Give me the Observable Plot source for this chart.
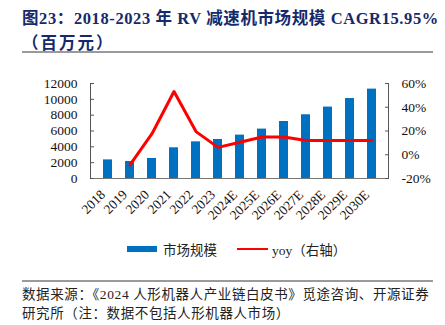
<!DOCTYPE html>
<html><head><meta charset="utf-8">
<script src="https://cdn.jsdelivr.net/npm/d3@7"></script>
<script src="https://cdn.jsdelivr.net/npm/@observablehq/plot@0.6"></script>
<style>
body{margin:0;width:445px;height:325px;background:#fff;position:relative;overflow:hidden;font-family:"Liberation Serif","Noto Sans CJK SC",serif;}
.abs{position:absolute;white-space:nowrap;}
#t1{left:22px;top:5px;font-size:16.5px;font-weight:bold;color:#15296b;letter-spacing:0.6px;}
#t2{left:22px;top:30px;font-size:16.5px;font-weight:bold;color:#15296b;letter-spacing:2px;}
.hr{position:absolute;left:22px;width:411px;height:2px;background:#9a9a9a;}
#chart{position:absolute;left:0;top:60px;}
.src{left:22px;font-size:13.5px;color:#222;letter-spacing:0.6px;}
</style></head>
<body>
<div id="t1" class="abs">图23：2018-2023 年 RV 减速机市场规模 CAGR15.95%</div>
<div id="t2" class="abs">（百万元）</div>
<div class="hr" style="top:51px"></div>
<div id="chart"></div>
<div class="abs" style="left:127px;top:246px;width:30px;height:6px;background:#0070C0"></div>
<div class="abs" style="left:163px;top:239px;font-size:13.5px;color:#222">市场规模</div>
<div class="abs" style="left:237px;top:248px;width:31px;height:2px;background:#ff0000"></div>
<div class="abs" style="left:272px;top:239px;font-size:13.5px;color:#222">yoy（右轴）</div>
<div class="hr" style="top:280px"></div>
<div class="abs src" style="top:283px">数据来源：《2024 人形机器人产业链白皮书》觅途咨询、开源证券</div>
<div class="abs src" style="top:302px">研究所（注：数据不包括人形机器人市场）</div>
<script>
const years = ["2018","2019","2020","2021","2022","2023","2024E","2025E","2026E","2027E","2028E","2029E","2030E"];
const marketSize = [2350,2150,2530,3880,4630,4930,5480,6240,7200,8050,9020,10100,11290];
const yoyYears = ["2019","2020","2021","2022","2023","2024E","2025E","2026E","2027E","2028E","2029E","2030E"];
const yoyPct = [-8.5,17.7,53.3,19.5,6.2,10.5,15.0,15.0,12.0,12.0,12.0,12.0];
const leftTicks = [0,2000,4000,6000,8000,10000,12000];
const rightTicks = [-20,0,20,40,60];

const bars = years.map((y,i)=>({year:y, value:marketSize[i]}));
const yoy = yoyYears.map((y,i)=>({year:y, pct:yoyPct[i]}));
const conv = d3.scaleLinear([-20,60],[0,12000]);

const chart = Plot.plot({
  width:445, height:180,
  marginLeft:90, marginRight:57, marginTop:23, marginBottom:62,
  style:{fontFamily:"'Liberation Serif', serif", fontSize:"13.5px", color:"#111", background:"transparent"},
  x:{domain:years, paddingInner:0.6, paddingOuter:0.3},
  y:{domain:[0,12000]},
  marks:[
    Plot.barY(bars,{x:"year", y:"value", fill:"#0070C0"}),
    Plot.ruleY([0],{stroke:"#777", strokeWidth:1.2}),
    Plot.frame({anchor:"left", stroke:"#555"}),
    Plot.frame({anchor:"right", stroke:"#555"}),
    Plot.line(yoy,{x:"year", y:d=>conv(d.pct), stroke:"#ff0000", strokeWidth:3}),
    Plot.axisY(leftTicks,{anchor:"left", tickSize:-4, tickPadding:17, tickFormat:d3.format("d"), stroke:"#555", label:null}),
    Plot.axisY(rightTicks.map(conv),{anchor:"right", tickSize:-4, tickPadding:17, tickFormat:d=>Math.round(conv.invert(d))+"%", stroke:"#555", label:null}),
    Plot.axisX({tickRotate:-45, tickSize:0, tickPadding:4, dx:-5, dy:10, label:null})
  ]
});
document.getElementById("chart").appendChild(chart);
</script>
</body></html>
